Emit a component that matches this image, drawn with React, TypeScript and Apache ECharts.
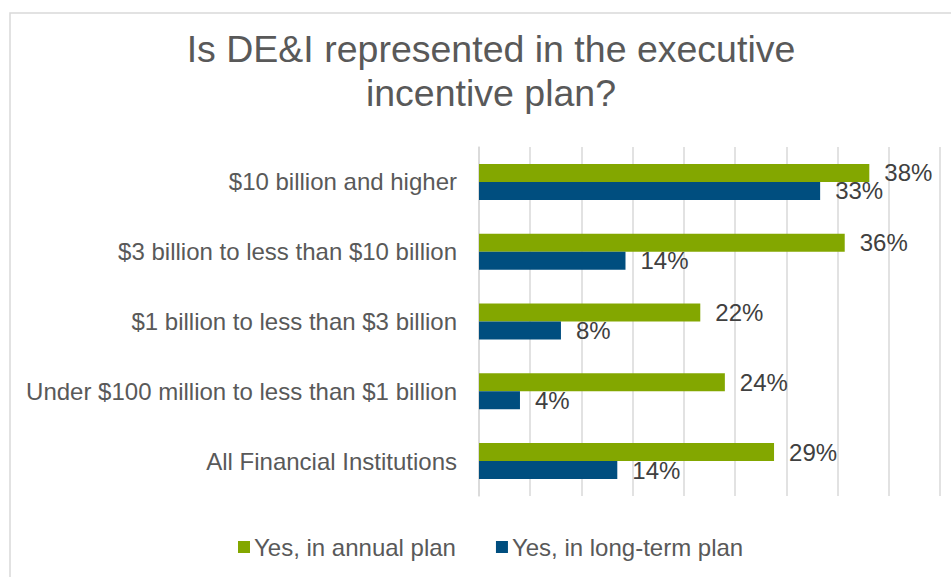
import React, { useEffect, useRef } from "react";
import * as echarts from "echarts";

const categories = [
  "$10 billion and higher",
  "$3 billion to less than $10 billion",
  "$1 billion to less than $3 billion",
  "Under $100 million to less than $1 billion",
  "All Financial Institutions",
];
const annualPlan = [38.1, 35.7, 21.6, 24.0, 28.8];
const longTermPlan = [33.3, 14.3, 8.0, 4.0, 13.5];
const seriesNames = ["Yes, in annual plan", "Yes, in long-term plan"];
const titleText = "Is DE&I represented in the executive\nincentive plan?";

const FONT = "'Liberation Sans', Arial, sans-serif";

export default function App() {
  const ref = useRef<HTMLDivElement>(null);
  useEffect(() => {
    if (!ref.current) return;
    const chart = echarts.init(ref.current, undefined, { renderer: "svg" });
    const label = {
      show: true,
      position: "right",
      distance: 15,
      fontSize: 24,
      fontFamily: FONT,
      color: "#404040",
      formatter: (p: any) => Math.round(p.value) + "%",
    };
    chart.setOption({
      animation: false,
      backgroundColor: "#ffffff",
      textStyle: { fontFamily: FONT },
      title: {
        text: titleText,
        left: 491,
        textAlign: "center",
        top: 27,
        padding: 0,
        textStyle: {
          fontSize: 37.5,
          fontWeight: "normal",
          color: "#595959",
          lineHeight: 44,
          fontFamily: FONT,
        },
      },
      graphic: [
        {
          type: "rect",
          shape: { x: 10, y: 13, width: 980, height: 620 },
          style: { fill: "none", stroke: "#d9d9d9", lineWidth: 1.5 },
          silent: true,
        },
      ],
      legend: {
        left: 238,
        top: 535,
        padding: 0,
        itemWidth: 12,
        itemHeight: 12,
        itemGap: 40,
        icon: "rect",
        textStyle: { fontSize: 24, color: "#595959", fontFamily: FONT, padding: [0, 0, 0, -1] },
        data: seriesNames,
      },
      grid: { left: 479, right: 11, top: 147, bottom: 81, containLabel: false },
      xAxis: {
        type: "value",
        min: 0,
        max: 45,
        interval: 5,
        axisLabel: { show: false },
        axisLine: { show: false },
        axisTick: { show: false },
        splitLine: { show: true, lineStyle: { color: "#d9d9d9", width: 1.5 } },
      },
      yAxis: {
        type: "category",
        data: categories,
        inverse: true,
        axisLine: { show: true, lineStyle: { color: "#d9d9d9", width: 1.5 } },
        axisTick: { show: false },
        axisLabel: { fontSize: 24, color: "#595959", margin: 22, fontFamily: FONT },
      },
      series: [
        {
          name: seriesNames[0],
          type: "bar",
          data: annualPlan,
          barWidth: 18,
          barGap: "0%",
          itemStyle: { color: "#83a700" },
          label,
        },
        {
          name: seriesNames[1],
          type: "bar",
          data: longTermPlan,
          barWidth: 18,
          barGap: "0%",
          itemStyle: { color: "#004e7f" },
          label,
        },
      ],
    });
    return () => chart.dispose();
  }, []);
  return (
    <div
      ref={ref}
      style={{ position: "fixed", left: 0, top: 0, width: 951, height: 577 }}
    />
  );
}
